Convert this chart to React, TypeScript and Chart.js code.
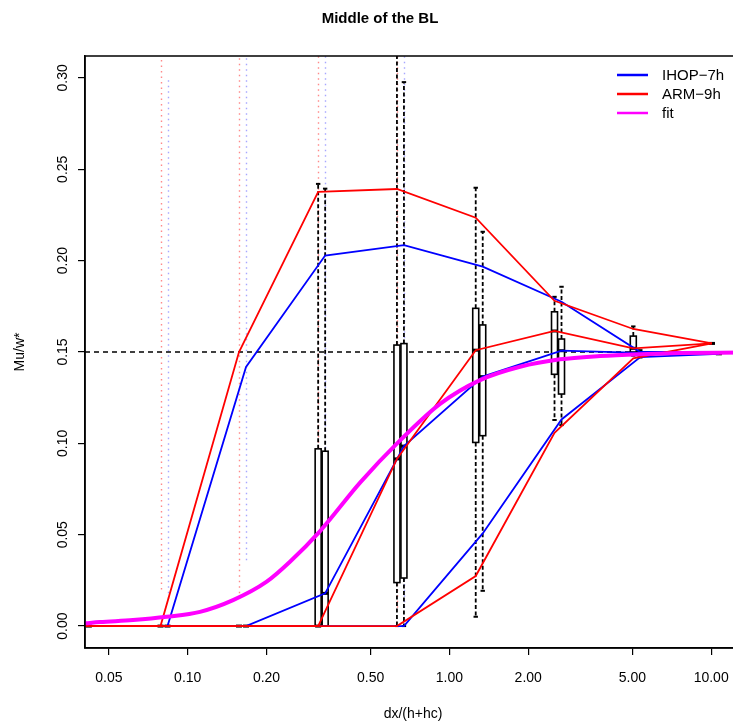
import React, { useEffect, useRef } from "react";
import { Chart, registerables } from "chart.js";

Chart.register(...registerables);

const FONT = '"Liberation Sans", Arial, Helvetica, sans-serif';

// ---- axis ticks ----
const xTickValues = [0.05, 0.1, 0.2, 0.5, 1, 2, 5, 10];
const xTickLabels = ["0.05", "0.10", "0.20", "0.50", "1.00", "2.00", "5.00", "10.00"];
const yTickValues = [0, 0.05, 0.1, 0.15, 0.2, 0.25, 0.3];
const yTickLabels = ["0.00", "0.05", "0.10", "0.15", "0.20", "0.25", "0.30"];

// ---- IHOP-7h (blue) ----
const ihopX = [0.0419, 0.0837, 0.167, 0.335, 0.67, 1.34, 2.68, 5.36, 10.7];
const ihopUpper = [0, 0, 0.1418, 0.2028, 0.2085, 0.1967, 0.1775, 0.150, 0.150];
const ihopMiddle = [0, 0, 0, 0.0179, 0.0985, 0.1365, 0.1507, 0.1495, 0.149];
const ihopLower = [0, 0, 0, 0, 0, 0.0507, 0.1131, 0.1472, 0.149];
const ihopWhiskLo = [0, 0, 0, 0, 0, 0.0193, 0.11, 0.147, 0.149];
const ihopBoxLo = [0, 0, 0, 0, 0.0263, 0.1042, 0.127, 0.148, 0.149];
const ihopBoxHi = [0, 0, 0, 0.0957, 0.1546, 0.1648, 0.1571, 0.150, 0.149];
const ihopWhiskHi = [0, 0, 0, 0.2394, 0.2977, 0.2158, 0.1857, 0.151, 0.149];

// ---- ARM-9h (red) ----
const armX = [0.0394, 0.0787, 0.157, 0.315, 0.63, 1.26, 2.52, 5.04, 10.07];
const armUpper = [0, 0, 0.150, 0.2377, 0.2392, 0.2235, 0.178, 0.1626, 0.1547];
const armMiddle = [0, 0, 0, 0, 0.0915, 0.151, 0.1615, 0.152, 0.1547];
const armLower = [0, 0, 0, 0, 0, 0.0274, 0.1058, 0.1465, 0.1547];
const armWhiskLo = [0, 0, 0, 0, 0, 0.0051, 0.1128, 0.148, 0.1547];
const armBoxLo = [0, 0, 0, 0, 0.0238, 0.1005, 0.1378, 0.150, 0.1547];
const armBoxHi = [0, 0, 0, 0.097, 0.1538, 0.1739, 0.172, 0.1587, 0.1547];
const armWhiskHi = [0, 0, 0, 0.242, 0.33, 0.2399, 0.1802, 0.164, 0.1547];

// ---- raw-sample stripes (faint) ----
const ihopStripeX = [0.0837, 0.167, 0.335, 0.67];
const ihopStripeLo = [0.015, 0.036, 0.01, 0.01];
const ihopStripeHi = [0.3, 0.312, 0.312, 0.312];
const armStripeX = [0.0787, 0.157, 0.315, 0.63];
const armStripeLo = [0.02, 0.015, 0.01, 0.01];
const armStripeHi = [0.312, 0.312, 0.312, 0.312];

// ---- fit curve ----
const fitX = [0.0405, 0.0462, 0.0618, 0.0831, 0.1114, 0.149, 0.2003, 0.2458, 0.3204, 0.4555, 0.6476, 0.9207, 1.309, 1.861, 2.646, 3.76, 5.35, 7.6, 13.0];
const fitY = [0.0015, 0.0022, 0.0033, 0.0051, 0.0078, 0.0142, 0.0243, 0.0352, 0.052, 0.0785, 0.1016, 0.1216, 0.1346, 0.1419, 0.146, 0.1478, 0.1488, 0.1494, 0.1497];

const refLevel = 0.15;

const BLUE = "#0000FF";
const RED = "#FF0000";
const MAGENTA = "#FF00FF";

const pts = (xs: number[], ys: number[]) => xs.map((x, i) => ({ x, y: ys[i] }));

const underlayPlugin = {
  id: "underlay",
  beforeDatasetsDraw(chart: any) {
    const { ctx, chartArea: ca, scales } = chart;
    const x = scales.x;
    const y = scales.y;
    ctx.save();
    ctx.beginPath();
    ctx.rect(ca.left, ca.top, ca.right - ca.left, ca.bottom - ca.top);
    ctx.clip();

    const line = (x1: number, y1: number, x2: number, y2: number) => {
      ctx.beginPath();
      ctx.moveTo(x1, y1);
      ctx.lineTo(x2, y2);
      ctx.stroke();
    };

    // faint stripes of raw samples
    const stripes = (xs: number[], lo: number[], hi: number[], color: string) => {
      ctx.strokeStyle = color;
      ctx.lineWidth = 1.4;
      ctx.setLineDash([1.5, 4]);
      xs.forEach((xv, i) => {
        const px = Math.round(x.getPixelForValue(xv)) + 0.5;
        line(px, y.getPixelForValue(lo[i]), px, y.getPixelForValue(hi[i]));
      });
      ctx.setLineDash([]);
    };
    stripes(armStripeX, armStripeLo, armStripeHi, "rgba(255,40,40,0.55)");
    stripes(ihopStripeX, ihopStripeLo, ihopStripeHi, "rgba(60,60,255,0.45)");

    // reference level
    ctx.strokeStyle = "#000";
    ctx.lineWidth = 1.5;
    ctx.setLineDash([5, 4]);
    const py = y.getPixelForValue(refLevel);
    line(ca.left, py, ca.right, py);
    ctx.setLineDash([]);

    // box plots
    const boxes = (xs: number[], wLo: number[], bLo: number[], med: number[], bHi: number[], wHi: number[]) => {
      xs.forEach((xv, i) => {
        const cx = x.getPixelForValue(xv);
        const hw = 3;
        const pWLo = y.getPixelForValue(wLo[i]);
        const pBLo = y.getPixelForValue(bLo[i]);
        const pBHi = y.getPixelForValue(bHi[i]);
        const pWHi = y.getPixelForValue(wHi[i]);
        const pMed = y.getPixelForValue(med[i]);
        ctx.strokeStyle = "#000";
        ctx.lineWidth = 1.8;
        ctx.setLineDash([4, 2.5]);
        if (wHi[i] > bHi[i]) line(cx, pBHi, cx, pWHi);
        if (wLo[i] < bLo[i]) line(cx, pBLo, cx, pWLo);
        ctx.setLineDash([]);
        ctx.lineWidth = 2;
        if (wHi[i] > bHi[i]) line(cx - 2.2, pWHi, cx + 2.2, pWHi);
        if (wLo[i] < bLo[i]) line(cx - 2.2, pWLo, cx + 2.2, pWLo);
        ctx.fillStyle = "#fff";
        ctx.fillRect(cx - hw, pBHi, 2 * hw, pBLo - pBHi);
        ctx.lineWidth = 1.6;
        ctx.strokeRect(cx - hw, pBHi, 2 * hw, pBLo - pBHi);
        ctx.lineWidth = 3;
        line(cx - hw, pMed, cx + hw, pMed);
      });
    };
    boxes(armX, armWhiskLo, armBoxLo, armMiddle, armBoxHi, armWhiskHi);
    boxes(ihopX, ihopWhiskLo, ihopBoxLo, ihopMiddle, ihopBoxHi, ihopWhiskHi);
    ctx.restore();
  },
  afterDraw(chart: any) {
    const { ctx, chartArea: ca, scales } = chart;
    const y = scales.y;
    ctx.save();
    // frame
    ctx.strokeStyle = "#000";
    ctx.lineWidth = 1.5;
    ctx.strokeRect(ca.left, ca.top, ca.right - ca.left, ca.bottom - ca.top);

    // y tick labels (rotated, as in R)
    ctx.fillStyle = "#000";
    ctx.font = `14px ${FONT}`;
    ctx.textAlign = "center";
    ctx.textBaseline = "middle";
    yTickValues.forEach((v, i) => {
      const py = y.getPixelForValue(v);
      ctx.save();
      ctx.translate(63, py);
      ctx.rotate(-Math.PI / 2);
      ctx.fillText(yTickLabels[i], 0, 0);
      ctx.restore();
    });

    // title
    ctx.font = `bold 15px ${FONT}`;
    ctx.textAlign = "center";
    ctx.textBaseline = "middle";
    ctx.fillText("Middle of the BL", 380, 19);

    // legend
    const items = [
      { label: "IHOP\u22127h", color: BLUE },
      { label: "ARM\u22129h", color: RED },
      { label: "fit", color: MAGENTA },
    ];
    ctx.font = `15px ${FONT}`;
    ctx.textAlign = "left";
    items.forEach((it, i) => {
      const ly = 75 + i * 19;
      ctx.strokeStyle = it.color;
      ctx.lineWidth = 2.5;
      ctx.beginPath();
      ctx.moveTo(617, ly);
      ctx.lineTo(648, ly);
      ctx.stroke();
      ctx.fillStyle = "#000";
      ctx.fillText(it.label, 662, ly + 1);
    });
    ctx.restore();
  },
};

export default function App() {
  const ref = useRef<HTMLCanvasElement>(null);
  useEffect(() => {
    const lineDs = (label: string, data: any, color: string, width: number, extra: any = {}) => ({
      label,
      data,
      borderColor: color,
      backgroundColor: color,
      borderWidth: width,
      pointRadius: 0,
      fill: false,
      tension: 0,
      ...extra,
    });
    const chart = new Chart(ref.current as HTMLCanvasElement, {
      type: "line",
      data: {
        datasets: [
          lineDs("fit", pts(fitX, fitY), MAGENTA, 4, { cubicInterpolationMode: "monotone" }),
          lineDs("ARM-9h upper", pts(armX, armUpper), RED, 1.8),
          lineDs("ARM-9h middle", pts(armX, armMiddle), RED, 1.8),
          lineDs("ARM-9h lower", pts(armX, armLower), RED, 1.8),
          lineDs("IHOP-7h upper", pts(ihopX, ihopUpper), BLUE, 1.8),
          lineDs("IHOP-7h middle", pts(ihopX, ihopMiddle), BLUE, 1.8),
          lineDs("IHOP-7h lower", pts(ihopX, ihopLower), BLUE, 1.8),
        ],
      },
      options: {
        responsive: false,
        animation: false,
        devicePixelRatio: 1,
        layout: { padding: { top: 56, left: 0, right: 19, bottom: 0 } },
        plugins: {
          legend: { display: false },
          tooltip: { enabled: false },
          title: { display: false },
        },
        scales: {
          x: {
            type: "logarithmic",
            min: 0.0405,
            max: 13.0,
            afterBuildTicks: (s: any) => {
              s.ticks = xTickValues.map((v) => ({ value: v }));
            },
            afterFit: (s: any) => {
              s.height = 76;
            },
            ticks: {
              autoSkip: false,
              maxRotation: 0,
              minRotation: 0,
              color: "#000",
              padding: 15,
              font: { family: FONT, size: 14 },
              callback: (v: any) => {
                const i = xTickValues.indexOf(Number(v));
                return i >= 0 ? xTickLabels[i] : "";
              },
            },
            grid: { drawOnChartArea: false, drawTicks: true, tickLength: 7, color: "#000", lineWidth: 1.2 },
            border: { display: true, color: "#000", width: 1.5 },
            title: {
              display: true,
              text: "dx/(h+hc)",
              color: "#000",
              font: { family: FONT, size: 14 },
              padding: { top: 0, bottom: 1 },
            },
          },
          y: {
            type: "linear",
            min: -0.012,
            max: 0.312,
            afterBuildTicks: (s: any) => {
              s.ticks = yTickValues.map((v) => ({ value: v }));
            },
            afterFit: (s: any) => {
              s.width = 85;
            },
            ticks: { display: false },
            grid: { drawOnChartArea: false, drawTicks: true, tickLength: 7, color: "#000", lineWidth: 1.2 },
            border: { display: true, color: "#000", width: 1.5 },
            title: {
              display: true,
              text: "Mu/w*",
              color: "#000",
              font: { family: FONT, size: 14 },
              padding: { top: 12, bottom: 0 },
            },
          },
        },
      },
      plugins: [underlayPlugin],
    } as any);
    return () => chart.destroy();
  }, []);
  return (
    <div
      style={{
        position: "absolute",
        left: 0,
        top: 0,
        width: 733,
        height: 724,
        overflow: "hidden",
        background: "#fff",
      }}
    >
      <canvas ref={ref} width={760} height={724} style={{ display: "block", width: 760, height: 724 }} />
    </div>
  );
}
